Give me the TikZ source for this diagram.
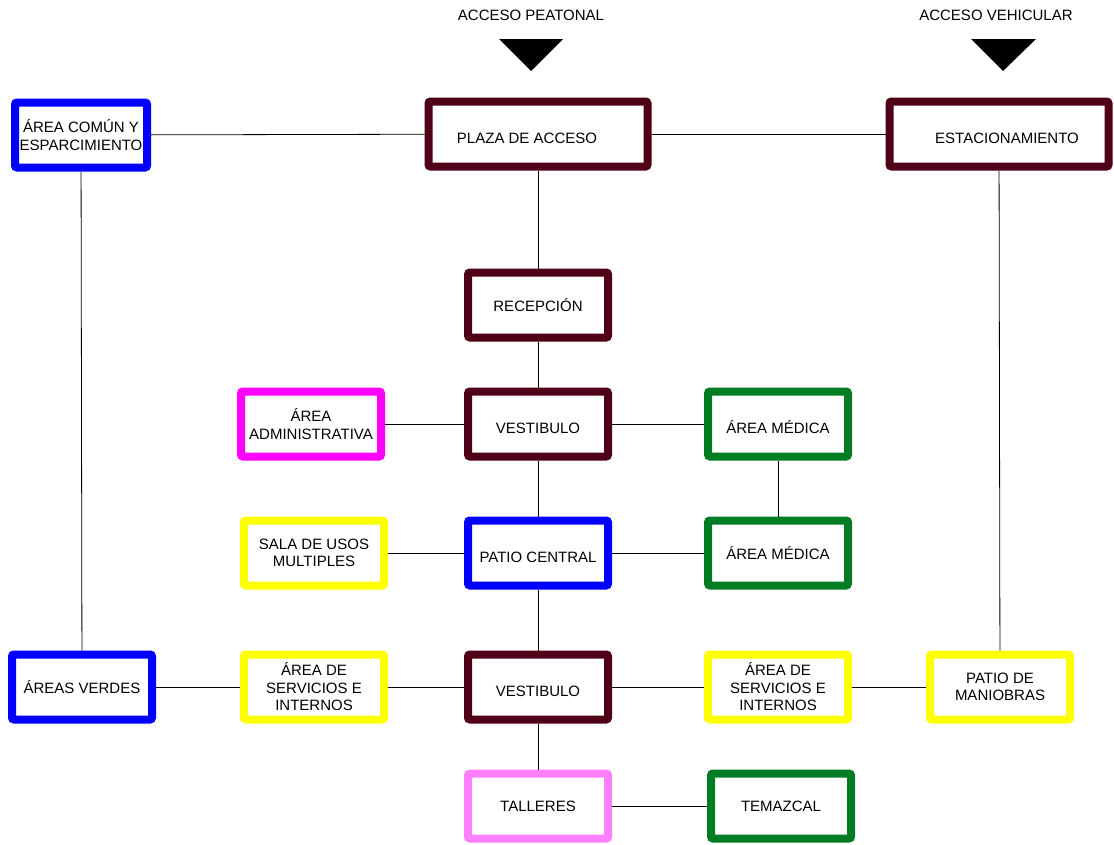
\documentclass[tikz,border=0pt]{standalone}
\usepackage{fontspec}
\setmainfont{Liberation Sans}
\definecolor{guinda}{RGB}{80,0,22}
\definecolor{verde}{RGB}{0,125,35}
\definecolor{rosa}{RGB}{255,128,255}
\definecolor{fucsia}{RGB}{255,0,255}
\definecolor{azul}{RGB}{0,0,255}
\definecolor{amarillo}{RGB}{255,255,0}

\begin{document}
\begin{tikzpicture}[x=1pt,y=-1pt,
		caja/.style={draw=#1, line width=8pt, rounded corners=2pt, fill=white, minimum width=140pt, minimum height=65pt, align=center, inner sep=1pt, font=\fontsize{15}{17.5}\selectfont},
		baja/.style={text height=18pt, text depth=0pt},
		liga/.style={line width=0.8pt},
		rotulo/.style={font=\fontsize{15}{17.5}\selectfont}]
				\useasboundingbox (0,0) rectangle (1114,844);
				
				\node[rotulo] (peatonal) at (531,15) {ACCESO PEATONAL};
				\node[rotulo] (vehicular) at (996,15) {ACCESO VEHICULAR};
				\fill[black] (499,39) -- (563,39) -- (531,71) -- cycle;
				\fill[black] (971,39) -- (1036,39) -- (1003,71) -- cycle;
				
				\node[caja=azul, minimum width=132pt] (comun) at (81,135) {ÁREA COMÚN Y\\ESPARCIMIENTO};
				\node[caja=guinda, baja, minimum width=219pt] (plaza) at (538,134) {PLAZA DE ACCESO\hspace{22pt}};
				\node[caja=guinda, baja, minimum width=219pt] (estac) at (999,134) {\hspace{16pt}ESTACIONAMIENTO};
				
				\node[caja=guinda] (recep) at (538,305) {RECEPCIÓN};
				
				\node[caja=fucsia] (admin) at (311,424) {ÁREA\\ADMINISTRATIVA};
				\node[caja=guinda, baja] (vest) at (538,424) {VESTIBULO};
				\node[caja=verde, baja] (medA) at (778,424) {ÁREA MÉDICA};
				
				\node[caja=amarillo] (sala) at (314,553) {SALA DE USOS\\MULTIPLES};
				\node[caja=azul, baja] (patio) at (538,553) {PATIO CENTRAL};
				\node[caja=verde] (medB) at (778,553) {ÁREA MÉDICA};
				
				\node[caja=azul] (verdes) at (82,687) {ÁREAS VERDES};
				\node[caja=amarillo] (servL) at (314,687) {ÁREA DE\\SERVICIOS E\\INTERNOS};
				\node[caja=guinda, baja] (vestB) at (538,687) {VESTIBULO};
				\node[caja=amarillo] (servR) at (778,687) {ÁREA DE\\SERVICIOS E\\INTERNOS};
				\node[caja=amarillo] (maniob) at (1000,687) {PATIO DE\\MANIOBRAS};
				
				\node[caja=rosa] (talleres) at (538,806) {TALLERES};
				\node[caja=verde] (temaz) at (781,806) {TEMAZCAL};
				
				\draw[liga] (comun) -- (plaza);
				\draw[liga] (plaza) -- (estac);
				\draw[liga] (plaza) -- (recep);
				\draw[liga] (recep) -- (vest);
				\draw[liga] (admin) -- (vest);
				\draw[liga] (vest) -- (medA);
				\draw[liga] (medA) -- (medB);
				\draw[liga] (vest) -- (patio);
				\draw[liga] (sala) -- (patio);
				\draw[liga] (patio) -- (medB);
				\draw[liga] (patio) -- (vestB);
				\draw[liga] (comun) -- (verdes);
				\draw[liga] (estac) -- (maniob);
				\draw[liga] (verdes) -- (servL);
				\draw[liga] (servL) -- (vestB);
				\draw[liga] (vestB) -- (servR);
				\draw[liga] (servR) -- (maniob);
				\draw[liga] (vestB) -- (talleres);
				\draw[liga] (talleres) -- (temaz);
			\end{tikzpicture}
\end{document}
